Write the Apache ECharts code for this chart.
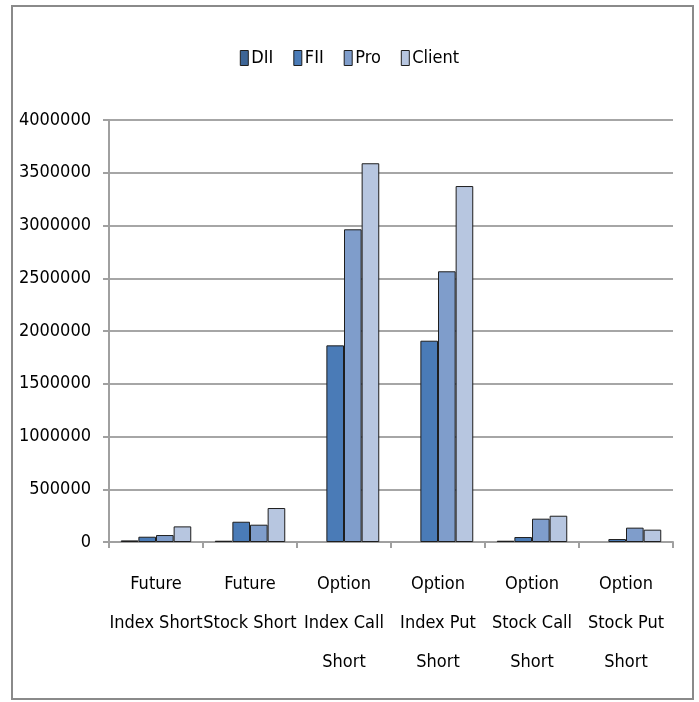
<!DOCTYPE html>
<html>
<head>
<meta charset="utf-8">
<script src="https://cdn.jsdelivr.net/npm/echarts@6/dist/echarts.min.js"></script>
<style>
  html, body { margin: 0; padding: 0; background: #fff; }
  #chart { width: 699px; height: 702px; }
</style>
</head>
<body>
<div id="chart"></div>
<script>
// Short positions by participant type
const categories = [
  'Future\nIndex Short',
  'Future\nStock Short',
  'Option\nIndex Call\nShort',
  'Option\nIndex Put\nShort',
  'Option\nStock Call\nShort',
  'Option\nStock Put\nShort'
];
const seriesNames = ['DII', 'FII', 'Pro', 'Client'];
const dii    = [15000, 12000, 0, 0, 12000, 0];
const fii    = [50000, 192000, 1864000, 1908000, 47000, 28000];
const pro    = [66000, 164000, 2964000, 2566000, 221000, 136000];
const client = [148000, 322000, 3590000, 3374000, 249000, 117000];
const yTicks = { min: 0, max: 4000000, interval: 500000 };

const colors = ['#3d6596', '#4a7bb7', '#7f9dcb', '#b7c6e0'];
const FONT = '"DejaVu Sans Condensed", "Liberation Sans Narrow", sans-serif';

const chart = echarts.init(document.getElementById('chart'), null, { renderer: 'canvas' });

const values = [dii, fii, pro, client];
// zero entries are left empty so no outline is drawn on the baseline
const series = seriesNames.map((name, i) => ({
  name: name,
  type: 'bar',
  data: values[i].map(v => (v === 0 ? '-' : v)),
  barGap: '0%',
  barCategoryGap: '25%',
  itemStyle: { color: colors[i], borderColor: '#1e1e1e', borderWidth: 1 }
}));

chart.setOption({
  animation: false,
  backgroundColor: '#ffffff',
  color: colors,
  graphic: [{
    type: 'rect',
    shape: { x: 12, y: 6, width: 681, height: 693 },
    style: { fill: 'none', stroke: '#8a8a8a', lineWidth: 2 },
    silent: true
  }],
  legend: {
    top: 44,
    left: 'center',
    itemWidth: 8,
    itemHeight: 15,
    itemGap: 20,
    icon: 'rect',
    textStyle: { fontFamily: FONT, fontSize: 18, color: '#000', padding: [0, 0, 0, -2] },
    itemStyle: { borderColor: '#1e1e1e', borderWidth: 1 },
    data: seriesNames
  },
  grid: { left: 109, right: 26, top: 120, bottom: 160, containLabel: false, outerBoundsMode: 'none' },
  xAxis: {
    type: 'category',
    data: categories,
    axisLine: { show: true, lineStyle: { color: '#a0a0a0', width: 2 } },
    axisTick: { show: true, alignWithLabel: false, length: 6, lineStyle: { color: '#a0a0a0', width: 2 } },
    axisLabel: {
      interval: 0,
      margin: 23,
      fontFamily: FONT,
      fontSize: 18,
      lineHeight: 39,
      color: '#000'
    }
  },
  yAxis: {
    type: 'value',
    min: yTicks.min,
    max: yTicks.max,
    interval: yTicks.interval,
    axisLine: { show: true, lineStyle: { color: '#a0a0a0', width: 2 } },
    axisTick: { show: true, length: 6, lineStyle: { color: '#a0a0a0', width: 2 } },
    splitLine: { show: true, lineStyle: { color: '#a6a6a6', width: 2 } },
    axisLabel: {
      margin: 18,
      fontFamily: FONT,
      fontSize: 18,
      color: '#000',
      formatter: v => String(v)
    }
  },
  series: series
});
</script>
</body>
</html>
